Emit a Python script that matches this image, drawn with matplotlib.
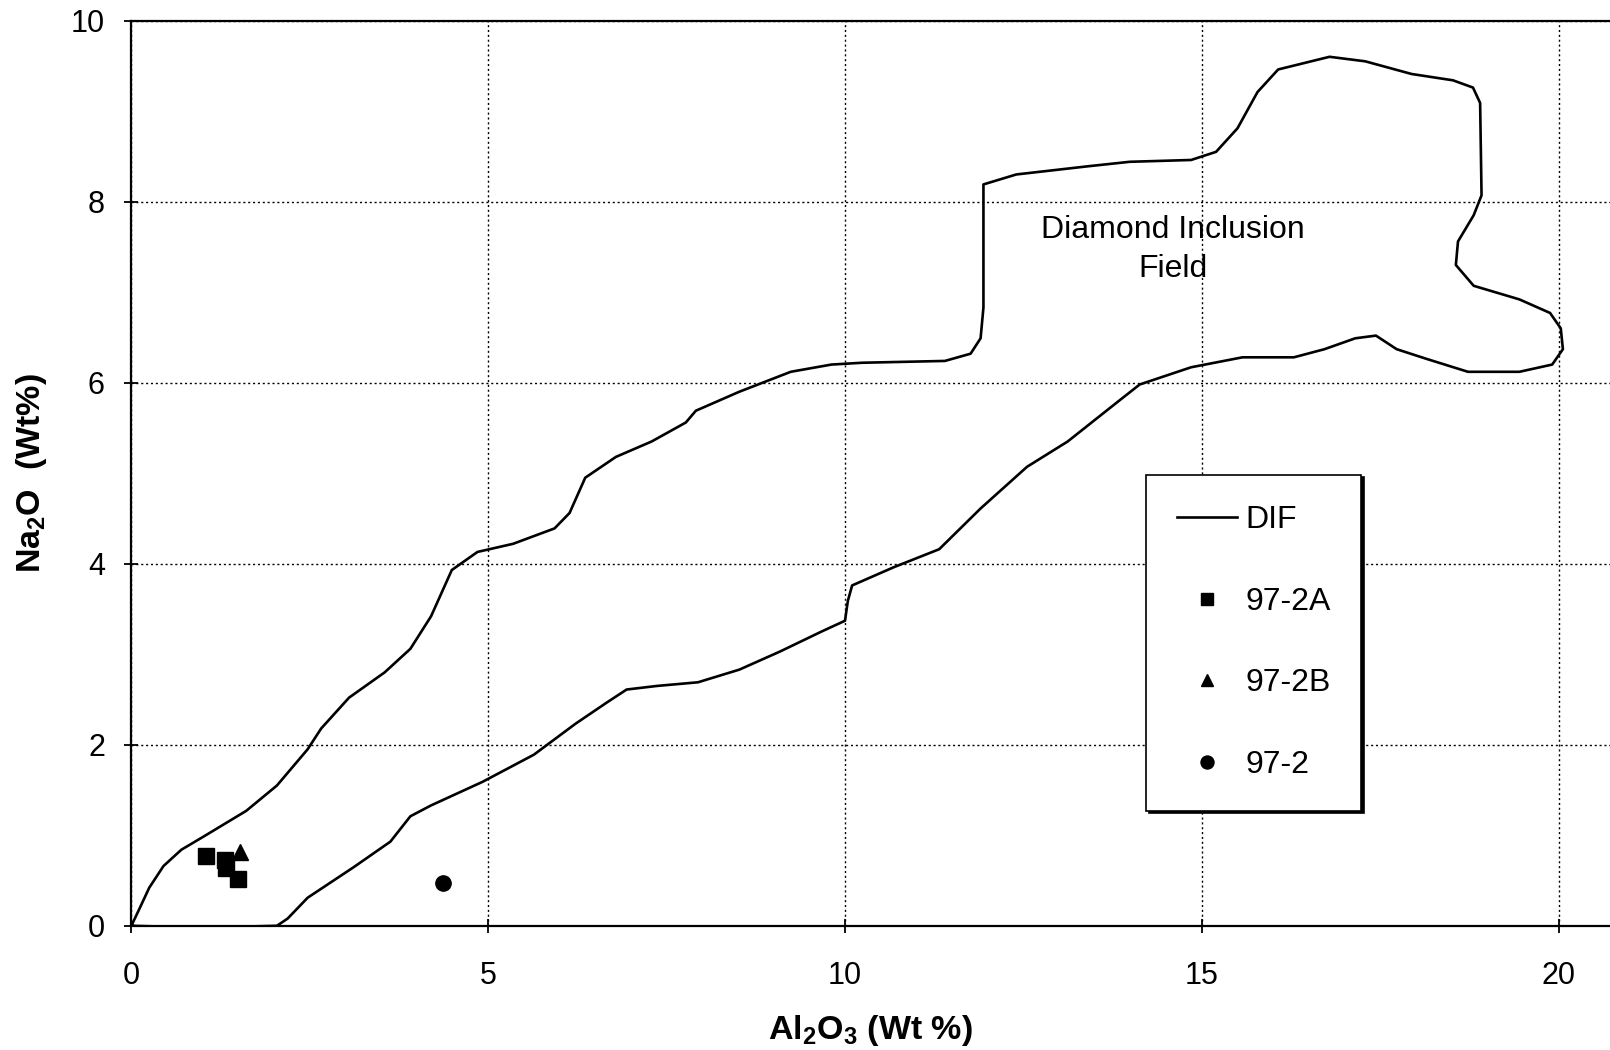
import numpy as np
import matplotlib.pyplot as plt

plt.rcParams['font.family'] = ['Liberation Sans', 'DejaVu Sans']
plt.rcParams['mathtext.fontset'] = 'custom'
plt.rcParams['mathtext.rm'] = 'Liberation Sans:bold'
plt.rcParams['mathtext.bf'] = 'Liberation Sans:bold'
plt.rcParams['mathtext.default'] = 'bf'

# Diamond inclusion field outline (Al2O3, Na2O wt%), traced clockwise from origin
dif_x = [0, 0.12, 0.25, 0.45, 0.7, 1.0, 1.61, 2.04, 2.47, 2.66, 3.05, 3.55, 3.91, 4.2, 4.49,
         4.85, 5.35, 5.93, 6.14, 6.36, 6.79, 7.29, 7.77, 7.91, 8.52, 9.24, 9.81, 10.24, 11.4,
         11.76, 11.9, 11.94, 11.94, 12.4, 13.4, 13.99, 14.85, 15.2, 15.5, 15.78, 16.07,
         16.79, 17.29, 17.94, 18.52, 18.8, 18.9, 18.92, 18.81, 18.59, 18.56, 18.81, 19.45,
         19.88, 20.03, 20.06, 19.91, 19.45, 18.73, 18.16, 17.73, 17.44, 17.15, 16.72,
         16.29, 15.57, 14.85, 14.13, 13.84, 13.12, 12.55, 11.9, 11.32, 10.68, 10.1, 10.04,
         10.0, 9.67, 9.09, 8.52, 7.94, 7.37, 6.94, 6.65, 6.22, 5.64, 4.92, 4.2, 3.91,
         3.63, 3.12, 2.47, 2.19, 2.04, 1.0, 0]
dif_y = [0, 0.2, 0.42, 0.66, 0.84, 0.98, 1.27, 1.55, 1.95, 2.18, 2.52, 2.80, 3.06, 3.42, 3.93,
         4.13, 4.22, 4.39, 4.56, 4.95, 5.18, 5.35, 5.56, 5.69, 5.90, 6.12, 6.20, 6.22, 6.24,
         6.32, 6.49, 6.83, 8.19, 8.30, 8.39, 8.44, 8.46, 8.55, 8.81, 9.21, 9.46,
         9.60, 9.55, 9.41, 9.34, 9.26, 9.09, 8.07, 7.85, 7.56, 7.30, 7.07, 6.92,
         6.77, 6.60, 6.37, 6.20, 6.12, 6.12, 6.26, 6.37, 6.52, 6.49, 6.37,
         6.28, 6.28, 6.17, 5.98, 5.80, 5.35, 5.07, 4.61, 4.16, 3.96, 3.76, 3.59,
         3.37, 3.25, 3.03, 2.83, 2.69, 2.65, 2.61, 2.46, 2.23, 1.89, 1.59, 1.33, 1.21,
         0.93, 0.65, 0.31, 0.08, 0, -0.02, 0]

s2a_x = [1.05, 1.31, 1.33, 1.49]
s2a_y = [0.77, 0.73, 0.64, 0.52]
s2b_x = [1.52]
s2b_y = [0.81]
s2_x = [4.37]
s2_y = [0.47]

fig = plt.figure(figsize=(16.1, 10.5), dpi=100)
ax = fig.add_axes([0.0816, 0.1183, 0.9184, 0.8621])

ax.plot(dif_x, dif_y, color='black', lw=1.9, label='DIF', solid_joinstyle='round')
ax.plot(s2a_x, s2a_y, 's', color='black', ms=11, ls='none', label='97-2A')
ax.plot(s2b_x, s2b_y, '^', color='black', ms=11, ls='none', label='97-2B')
ax.plot(s2_x, s2_y, 'o', color='black', ms=11, ls='none', label='97-2')

ax.set_xlim(0, 20.72)
ax.set_ylim(0, 10)
ax.set_xticks([0, 5, 10, 15, 20])
ax.set_yticks([0, 2, 4, 6, 8, 10])
ax.grid(True, color='black', linestyle=(0, (1.5, 2)), linewidth=1.0)
ax.spines['right'].set_visible(False)
for s in ('left', 'bottom', 'top'):
    ax.spines[s].set_linewidth(1.6)
ax.tick_params(direction='inout', length=10, width=1.3, labelsize=22)
ax.tick_params(axis='x', pad=20)
ax.tick_params(axis='y', pad=14)

ax.text(14.6, 7.47, 'Diamond Inclusion\nField', ha='center', va='center', fontsize=23,
        linespacing=1.4)

ax.set_xlabel('Al$_2$O$_3$ (Wt %)', fontsize=24.5, fontweight='bold', labelpad=16)
ax.set_ylabel('Na$_2$O  (Wt%)', fontsize=24.5, fontweight='bold', labelpad=16)

leg = ax.legend(loc='upper left', bbox_to_anchor=(0.712, 0.548), bbox_transform=fig.transFigure,
                fontsize=23, frameon=True, fancybox=False, edgecolor='black',
                shadow={'facecolor': 'black', 'edgecolor': 'black', 'alpha': 1},
                labelspacing=1.62, borderpad=0.95, handlelength=1.9, handletextpad=0.25,
                borderaxespad=0, markerscale=0.85)
leg.get_frame().set_linewidth(1.2)

fig.savefig('out.png', dpi=100)
